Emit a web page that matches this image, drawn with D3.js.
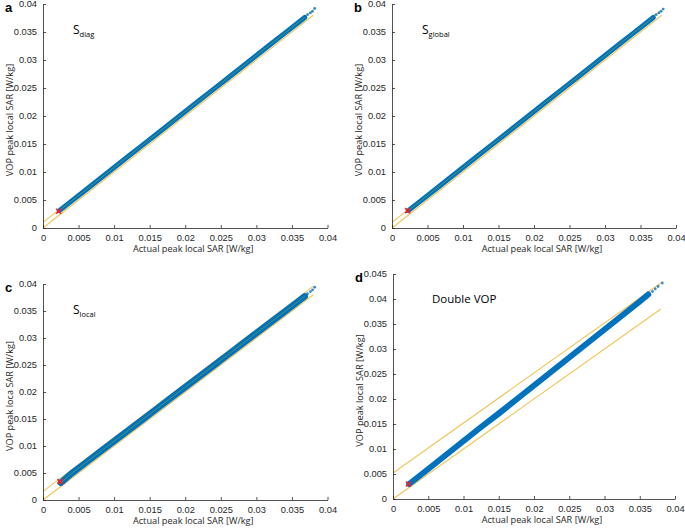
<!DOCTYPE html>
<html><head><meta charset="utf-8">
<script src="https://cdn.jsdelivr.net/npm/d3@7"></script>
<style>body{margin:0;background:#fff}svg{display:block}</style>
</head><body><svg id="c" width="685" height="528"></svg>
<script>
// ---- data ----
const panelLetters = ["a", "b", "c", "d"];
const panelNames = ["diag", "global", "local", "Double VOP"];
const yLabels = ["VOP peak local SAR [W/kg]", "VOP peak local SAR [W/kg]", "VOP peak loca SAR [W/kg]", "VOP peak local SAR [W/kg]"];
const xLabel = "Actual peak local SAR [W/kg]";
const xTicks = [0, 0.005, 0.01, 0.015, 0.02, 0.025, 0.03, 0.035, 0.04];
const yTicksABC = [0, 0.005, 0.01, 0.015, 0.02, 0.025, 0.03, 0.035, 0.04];
const yTicksD = [0, 0.005, 0.01, 0.015, 0.02, 0.025, 0.03, 0.035, 0.04, 0.045];

// band centre of the blue scatter (actual vs VOP peak local SAR)
const actualA = [0.0023, 0.004, 0.006, 0.008, 0.010, 0.012, 0.014, 0.016, 0.018, 0.020, 0.022, 0.024, 0.026, 0.028, 0.030, 0.032, 0.034, 0.036, 0.0368];
const vopA    = [0.0031, 0.0048, 0.0068, 0.0088, 0.0108, 0.0128, 0.0148, 0.0168, 0.0188, 0.0208, 0.0228, 0.0248, 0.0268, 0.0288, 0.0308, 0.0328, 0.0348, 0.0368, 0.0376];
const actualB = [0.0023, 0.004, 0.006, 0.008, 0.010, 0.012, 0.014, 0.016, 0.018, 0.020, 0.022, 0.024, 0.026, 0.028, 0.030, 0.032, 0.034, 0.036, 0.0368];
const vopB    = [0.0031, 0.0048, 0.0068, 0.0088, 0.0108, 0.0128, 0.0148, 0.0168, 0.0188, 0.0208, 0.0228, 0.0248, 0.0268, 0.0288, 0.0308, 0.0328, 0.0348, 0.0368, 0.0376];
const actualC = [0.0025, 0.004, 0.006, 0.008, 0.010, 0.012, 0.014, 0.016, 0.018, 0.020, 0.022, 0.024, 0.026, 0.028, 0.030, 0.032, 0.034, 0.036, 0.0368];
const vopC    = [0.0032, 0.0049, 0.0069, 0.0089, 0.0109, 0.0129, 0.0149, 0.0169, 0.0189, 0.0209, 0.0229, 0.0249, 0.0269, 0.0289, 0.0309, 0.0329, 0.0349, 0.0369, 0.0377];
const actualD = [0.0023, 0.005, 0.0075, 0.010, 0.0125, 0.015, 0.0175, 0.020, 0.0225, 0.025, 0.0275, 0.030, 0.0325, 0.035, 0.0362];
const vopD    = [0.0030, 0.0060, 0.0088, 0.0116, 0.0144, 0.0171, 0.0199, 0.0227, 0.0255, 0.0283, 0.0311, 0.0339, 0.0367, 0.0395, 0.0409];
// sparse points at the high end
const sparseXA = [0.0372, 0.0376, 0.0379, 0.0382];
const sparseYA = [0.0381, 0.0384, 0.0387, 0.0392];
const sparseXB = [0.0372, 0.0376, 0.0379, 0.0382];
const sparseYB = [0.0381, 0.0384, 0.0387, 0.0391];
const sparseXC = [0.0372, 0.0376, 0.0379, 0.0382];
const sparseYC = [0.0382, 0.0386, 0.0389, 0.0394];
const sparseXD = [0.0368, 0.0372, 0.0376, 0.0382];
const sparseYD = [0.0415, 0.0420, 0.0425, 0.0432];
// yellow reference lines: y = x and y = x + margin
const marginOffsets = [0.0010, 0.0010, 0.0016, 0.0052];
const lineEndX = 0.038;
// red marker (minimum)
const minX = [0.0022, 0.0022, 0.0024, 0.0022];
const minY = [0.0030, 0.0031, 0.0034, 0.0030];

const bandX = [actualA, actualB, actualC, actualD];
const bandY = [vopA, vopB, vopC, vopD];
const spX = [sparseXA, sparseXB, sparseXC, sparseXD];
const spY = [sparseYA, sparseYB, sparseYC, sparseYD];

// ---- layout ----
const boxes = [
  {x0: 43, x1: 327.5, y0: 228, y1: 4, ymax: 0.04, yt: yTicksABC},
  {x0: 392, x1: 676, y0: 228, y1: 4, ymax: 0.04, yt: yTicksABC},
  {x0: 43, x1: 327.5, y0: 500, y1: 284, ymax: 0.04, yt: yTicksABC},
  {x0: 393, x1: 675, y0: 499, y1: 274, ymax: 0.045, yt: yTicksD}
];
const bandWidth = [5, 5, 6.5, 6];
const BLUE = "#0072BD", YEL = "#EDB120", AX = "#262626";
const svg = d3.select("#c");
const fmt = d => d === 0 ? "0" : String(+d.toFixed(3));

boxes.forEach((b, i) => {
  const x = d3.scaleLinear().domain([0, 0.04]).range([b.x0, b.x1]);
  const y = d3.scaleLinear().domain([0, b.ymax]).range([b.y0, b.y1]);
  const g = svg.append("g");

  // yellow lines
  const off = marginOffsets[i];
  [0, off].forEach(o => {
    g.append("line").attr("x1", x(0)).attr("y1", y(o)).attr("x2", x(lineEndX)).attr("y2", y(lineEndX + o))
      .attr("stroke", YEL).attr("stroke-width", 1.1).attr("opacity", 0.75);
  });

  // band
  const pts = bandX[i].map((v, k) => [v, bandY[i][k]]);
  const line = d3.line().x(d => x(d[0])).y(d => y(d[1]));
  g.append("path").attr("d", line(pts)).attr("fill", "none").attr("stroke", BLUE)
    .attr("stroke-width", bandWidth[i]).attr("stroke-linecap", "round");
  g.selectAll(".sp").data(spX[i].map((v, k) => [v, spY[i][k]])).enter().append("circle")
    .attr("cx", d => x(d[0])).attr("cy", d => y(d[1])).attr("r", 1.4).attr("fill", BLUE).attr("opacity", 0.8);
  if (i < 3) {
    g.append("path").attr("d", line(pts)).attr("fill", "none").attr("stroke", "#5f9a55")
      .attr("stroke-width", 1).attr("opacity", 0.8);
  }

  // red marker
  const mx = x(minX[i]), my = y(minY[i]);
  g.append("path").attr("d", `M${mx-2.5},${my-2.5}L${mx+2.5},${my+2.5}M${mx-2.5},${my+2.5}L${mx+2.5},${my-2.5}`)
    .attr("stroke", "#F0202A").attr("stroke-width", 1.6);

  // axes
  const xa = g.append("g").attr("transform", `translate(0,${b.y0})`)
    .call(d3.axisBottom(x).tickValues(xTicks).tickFormat(fmt).tickSizeInner(-3).tickSizeOuter(0).tickPadding(6));
  const ya = g.append("g").attr("transform", `translate(${b.x0},0)`)
    .call(d3.axisLeft(y).tickValues(b.yt).tickFormat(fmt).tickSizeInner(-3).tickSizeOuter(0).tickPadding(6));
  [xa, ya].forEach(a => {
    a.select(".domain").attr("stroke", AX).attr("stroke-width", 0.8);
    a.selectAll(".tick line").attr("stroke", AX).attr("stroke-width", 0.8);
    a.selectAll("text").attr("fill", AX).attr("font-family", "Liberation Sans, Arial, sans-serif").attr("font-size", 9.3);
  });

  // axis labels
  g.append("text").attr("x", (b.x0 + b.x1) / 2 + 8).attr("y", b.y0 + 24).attr("text-anchor", "middle")
    .attr("font-family", "Open Sans, sans-serif").attr("font-size", 9.2).attr("fill", AX).text(xLabel);
  g.append("text").attr("transform", `translate(${b.x0 - 30},${(b.y0 + b.y1) / 2 + 4}) rotate(-90)`)
    .attr("text-anchor", "middle").attr("font-family", "Open Sans, sans-serif").attr("font-size", 9.2).attr("fill", AX).text(yLabels[i]);

  // panel letter
  g.append("text").attr("x", b.x0 - 38).attr("y", b.y1 + 8).attr("font-family", "Liberation Sans, Arial, sans-serif")
    .attr("font-weight", "bold").attr("font-size", 13).attr("fill", "#000").text(panelLetters[i]);

  // annotation
  const t = g.append("text").attr("font-family", "Open Sans, sans-serif").attr("fill", "#000");
  if (i < 3) {
    t.attr("x", b.x0 + 30).attr("y", b.y1 + 30).attr("font-size", 12);
    t.append("tspan").text("S");
    t.append("tspan").attr("font-size", 7.5).attr("dy", 3).text(panelNames[i]);
  } else {
    t.attr("x", b.x0 + 39).attr("y", b.y1 + 29).attr("font-size", 11.5).text(panelNames[i]);
  }
});
</script></body></html>
